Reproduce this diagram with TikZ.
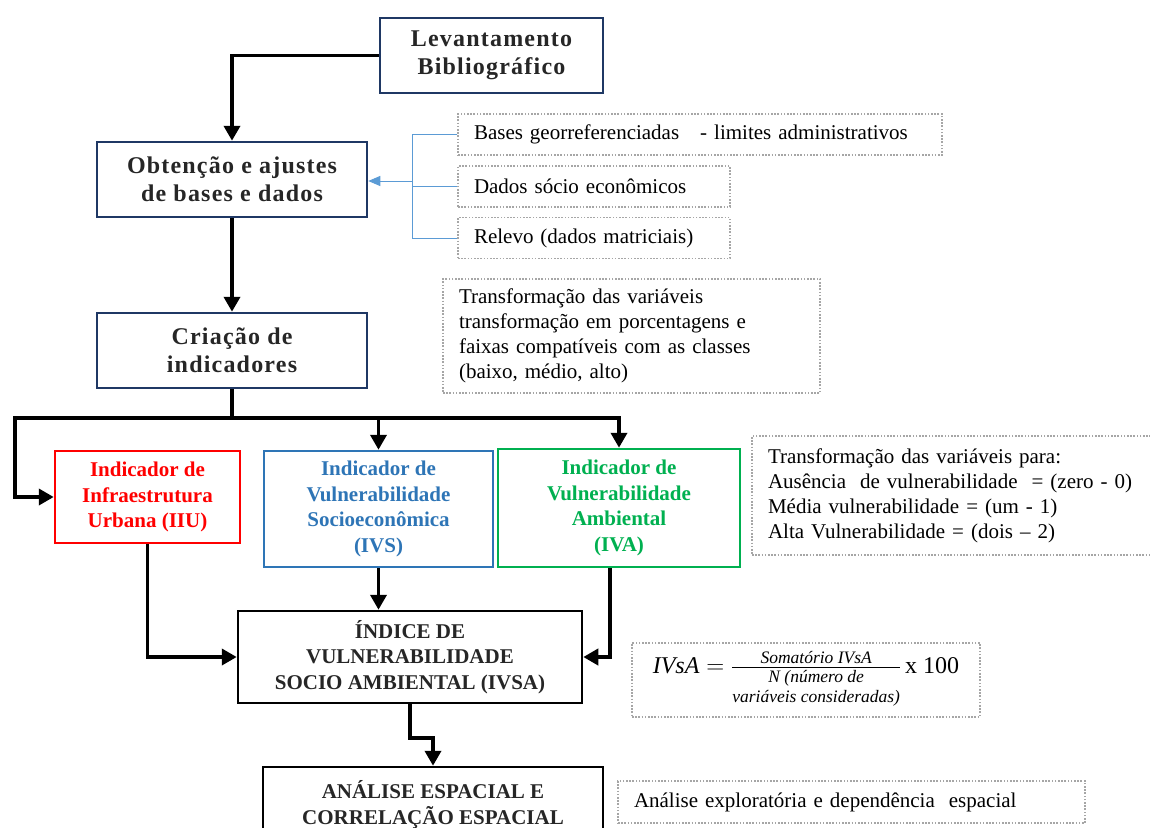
\documentclass[tikz,border=0pt]{standalone}
\usepackage{fontspec}
\usepackage{amsmath}
\setmainfont{Liberation Serif}
\newfontfamily\stagefont[LetterSpace=5]{Liberation Serif}
\usetikzlibrary{arrows.meta,positioning}

\definecolor{navy}{HTML}{1F3864}
\definecolor{ivsblue}{HTML}{2E75B6}
\definecolor{ivagreen}{HTML}{00B050}
\definecolor{iiured}{HTML}{FF0000}
\definecolor{dotgray}{HTML}{A6A6A6}
\definecolor{linkblue}{HTML}{5B9BD5}
\definecolor{boxtext}{HTML}{262626}

\tikzset{
  stagebox/.style={draw=navy, line width=2.5pt, align=center, text=boxtext,
    font=\stagefont\bfseries\fontsize{24}{28}\selectfont, inner sep=0pt},
  indbox/.style={draw=#1, text=#1, line width=2.5pt, align=center,
    font=\bfseries\fontsize{21}{25.5}\selectfont, inner sep=0pt},
  resultbox/.style={draw=black, line width=2.5pt, align=center, text=boxtext,
    font=\bfseries\fontsize{21}{25.5}\selectfont, inner sep=0pt},
  notebox/.style={draw=dotgray, dash pattern=on 1.6pt off 1.6pt, line width=1.6pt,
    align=left, font=\fontsize{21}{25}\selectfont, inner xsep=16pt, inner ysep=0pt},
  flow/.style={line width=3.8pt, -{Triangle[length=15pt,width=16pt]}},
  link/.style={draw=linkblue, line width=1pt},
}

\begin{document}
\begin{tikzpicture}[x=1pt,y=-1pt]
\useasboundingbox (0,0) rectangle (1150,827);

% main stages
\node[stagebox, minimum width=223, minimum height=75] (lev) at (491.5,55.5)
  {Levantamento\\Bibliográfico};
\node[stagebox, minimum width=270, minimum height=75] (obt) at (232,179.5)
  {Obtenção e ajustes\\de bases e dados};
\node[stagebox, minimum width=270, minimum height=75] (cri) at (232,350.5)
  {Criação de\\indicadores};

% indicators
\node[indbox=iiured, minimum width=185, minimum height=92] (iiu) at (147.5,497)
  {Indicador de\\Infraestrutura\\Urbana (IIU)};
\node[indbox=ivsblue, minimum width=229, minimum height=116] (ivs) at (378.5,509)
  {Indicador de\\Vulnerabilidade\\Socioeconômica\\(IVS)};
\node[indbox=ivagreen, minimum width=242, minimum height=118] (iva) at (619,508)
  {Indicador de\\Vulnerabilidade\\Ambiental\\(IVA)};

\node[resultbox, minimum width=344, minimum height=92] (ivsa) at (410,657)
  {ÍNDICE DE\\VULNERABILIDADE\\SOCIO AMBIENTAL (IVSA)};
\node[resultbox, minimum width=340, minimum height=75] (ana) at (433,804.5)
  {ANÁLISE ESPACIAL E\\CORRELAÇÃO ESPACIAL};

% dotted notes
\node[notebox, text width=452, minimum height=41] (bgeo) at (700,134.5)
  {Bases georreferenciadas\ \ \ - limites administrativos};
\node[notebox, text width=240, minimum height=41] (bsoc) at (594,186.5)
  {Dados sócio econômicos};
\node[notebox, text width=240, minimum height=41] (brel) at (594,238)
  {Relevo (dados matriciais)};
\node[notebox, text width=345, minimum height=114] (ntrans) at (631.5,336)
  {Transformação das variáveis\\transformação em porcentagens e\\faixas compatíveis com as classes\\(baixo, médio, alto)};
\node[notebox, text width=380, minimum height=119] (nclass) at (958,495.5)
  {Transformação das variáveis para:\\Ausência\ \ de vulnerabilidade\ \ = (zero - 0)\\Média vulnerabilidade = (um - 1)\\Alta Vulnerabilidade = (dois -- 2)};
\node[notebox, align=center, inner xsep=0pt, minimum width=348, minimum height=74,
  font=\fontsize{24}{28}\selectfont] (nform) at (806,680)
  {\renewcommand\arraystretch{1}%
   \raisebox{-4pt}{$\mathit{IVsA}=\frac{\text{\fontsize{17.5}{20}\selectfont\itshape Somatório IVsA}}{\text{\fontsize{17.5}{20}\selectfont\itshape\begin{tabular}[t]{@{}c@{}}N (número de\\variáveis consideradas)\end{tabular}}}$\,x 100}};
\node[notebox, text width=435, minimum height=42] (nana) at (851.5,802)
  {Análise exploratória e dependência\ \ espacial};

% connectors
\coordinate (split) at (232,418);
\coordinate (lt) at (15,418);
\coordinate (bx) at (413,181);

\draw[flow] (lev.west) -| (obt.north);
\draw[flow] (obt) -- (cri);
\draw[line width=3.8pt] (cri.south) -- (split);
\draw[flow] (split) -- (lt) |- (iiu.west);
\draw[flow] (split) -| (ivs.north);
\draw[flow] (split) -| (iva.north);
\draw[flow] (iiu.south) |- (ivsa.west);
\draw[flow] (ivs.south) -- (ivs.south |- ivsa.north);
\draw[flow] ([xshift=-9pt]iva.south) |- (ivsa.east);
\draw[flow] (ivsa.south) -- ++(0,34) -| (ana.north);

\draw[link] (bgeo.west) -- ++(-45,0) |- (brel.west);
\draw[link] (bsoc.west) -- ++(-45,0);
\draw[link, -{Triangle[length=12pt,width=10pt]}] (bx) -- (obt.east |- bx);

\end{tikzpicture}
\end{document}
